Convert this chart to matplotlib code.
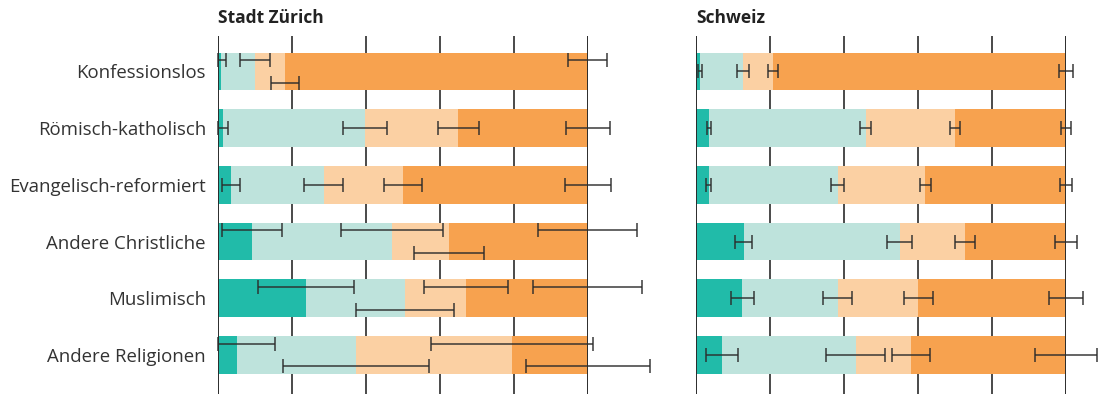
import numpy as np
import matplotlib
matplotlib.use("Agg")
import matplotlib.pyplot as plt

plt.rcParams['font.family'] = ['Open Sans', 'DejaVu Sans']

categories = ["Konfessionslos", "Römisch-katholisch", "Evangelisch-reformiert",
              "Andere Christliche", "Muslimisch", "Andere Religionen"]

# Shares (%) of the four answer groups per religious affiliation
zh_s1 = [0.8, 1.4, 3.6, 9.3, 23.9, 5.2]
zh_s2 = [9.3, 38.4, 25.0, 37.8, 26.8, 32.1]
zh_s3 = [8.1, 25.2, 21.5, 15.4, 16.4, 42.2]
zh_s4 = [81.8, 35.0, 49.9, 37.5, 32.9, 20.5]

ch_s1 = [1.0, 3.4, 3.4, 12.9, 12.4, 6.9]
ch_s2 = [11.6, 42.4, 34.8, 42.1, 25.8, 36.2]
ch_s3 = [8.1, 24.2, 23.7, 17.7, 21.8, 15.0]
ch_s4 = [79.3, 30.0, 38.1, 27.3, 40.0, 41.9]

# Half-widths of the confidence intervals (%) at the cumulative segment ends
zh_ci1 = [1.4, 1.4, 2.4, 8.2, 12.9, 10.3]
zh_ci2 = [4.0, 6.0, 5.3, 13.9, 13.2, 19.7]
zh_ci3 = [3.8, 5.5, 5.1, 9.5, 11.3, 21.8]
zh_ci4 = [5.3, 5.9, 6.2, 13.4, 14.8, 16.8]

ch_ci1 = [0.5, 0.5, 0.7, 2.3, 3.1, 4.3]
ch_ci2 = [1.6, 1.5, 1.75, 3.3, 4.0, 8.0]
ch_ci3 = [1.3, 1.3, 1.45, 2.6, 3.9, 5.1]
ch_ci4 = [1.85, 1.4, 1.65, 2.9, 4.55, 8.4]

# Vertical lane of each interval within its bar (-1 upper, 0 middle, +1 lower)
zh_lane = [[-1, -1, 1, -1], [0, 0, 0, 0], [0, 0, 0, 0],
           [-1, -1, 1, -1], [-1, 1, -1, -1], [-1, 1, -1, 1]]
ch_lane = [[0, 0, 0, 0]] * 6

colors = ["#21bba9", "#bee3dc", "#fbd0a3", "#f7a24f"]
grid_col = "#2b2b2b"
err_col = "#2b2b2b"

W, H = 1102, 394
fig = plt.figure(figsize=(W / 100, H / 100), dpi=100)

top_px = 36
ax_h = (H - top_px) / H
panels = [
    ("Stadt Zürich", 217.7, 370.0, [zh_s1, zh_s2, zh_s3, zh_s4],
     [zh_ci1, zh_ci2, zh_ci3, zh_ci4], zh_lane, True),
    ("Schweiz", 696.3, 369.7, [ch_s1, ch_s2, ch_s3, ch_s4],
     [ch_ci1, ch_ci2, ch_ci3, ch_ci4], ch_lane, False),
]

y = np.arange(len(categories))
bar_h = 0.665
lane_off = 0.2

for title, x0, wpx, shares, cis, lanes, show_labels in panels:
    ax = fig.add_axes([x0 / W, 0, wpx / W, ax_h])
    ax.set_xlim(0, 100)
    ax.set_ylim(5.688, -0.626)
    for sp in ax.spines.values():
        sp.set_visible(False)

    for gx in (20, 40, 60, 80):
        ax.axvline(gx, color=grid_col, lw=1.2, zorder=0)

    left = np.zeros(len(categories))
    cums = []
    for vals, c in zip(shares, colors):
        vals = np.asarray(vals, dtype=float)
        ax.barh(y, vals, left=left, height=bar_h, color=c, edgecolor="none", zorder=2)
        left = left + vals
        cums.append(left.copy())

    ax.axvline(0, color=grid_col, lw=1.4, zorder=3)
    ax.axvline(100, color=grid_col, lw=1.4, zorder=3)

    lanes = np.asarray(lanes)
    for k, (cum, ci) in enumerate(zip(cums, cis)):
        ci = np.asarray(ci, dtype=float)
        lo = np.minimum(ci, cum)
        ypos = y + lanes[:, k] * lane_off
        ax.errorbar(cum, ypos, xerr=[lo, ci], fmt="none", ecolor=err_col,
                    elinewidth=1.2, capsize=5, capthick=1.2, alpha=0.85,
                    zorder=4, clip_on=False)

    ax.set_xticks([])
    ax.set_yticks(y)
    if show_labels:
        ax.set_yticklabels(categories, fontsize=13.4, color="#333333")
    else:
        ax.set_yticklabels([])
    ax.tick_params(axis="y", length=0, pad=8.5)

    fig.text(x0 / W, 1 - 23 / H, title, fontsize=12.5, fontweight="bold",
             color="#222222", ha="left", va="baseline")

fig.savefig("out.png", dpi=100)
